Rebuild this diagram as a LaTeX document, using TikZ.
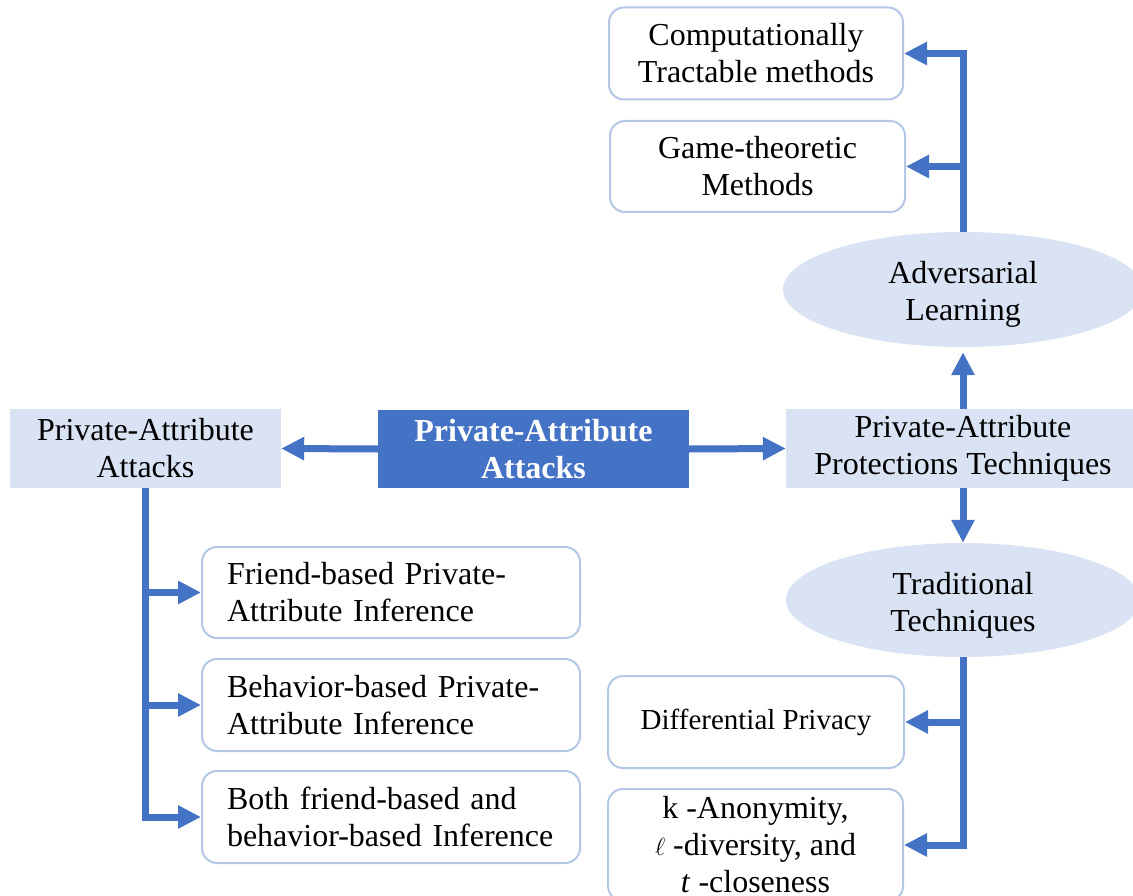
\documentclass[tikz,border=0pt]{standalone}
\usepackage{fontspec}
\setmainfont{Liberation Serif}
\usetikzlibrary{arrows.meta,shapes.geometric}
\definecolor{arrblue}{HTML}{4472C4}
\definecolor{lightfill}{HTML}{DAE3F3}
\definecolor{boxline}{HTML}{B4C7E7}
\begin{document}
\begin{tikzpicture}[x=1pt,y=-1pt,
 every node/.style={font=\fontsize{32}{37}\selectfont, inner sep=0pt},
 every label/.style={font=\fontsize{32}{37}\selectfont, inner sep=0pt, align=center},
 rbox/.style={draw=boxline, line width=2pt, rounded corners=15pt, fill=white, align=center},
 lbox/.style={rbox, align=left, text width=328pt, inner xsep=25pt, minimum width=378pt, minimum height=91pt},
 flat/.style={fill=lightfill, align=center},
 oval/.style={ellipse, fill=lightfill, align=center},
 arr/.style={draw=arrblue, line width=7pt, -{Triangle[length=23pt,width=22pt]}},
]
\useasboundingbox (0,0) rectangle (1133,896);
\clip (0,0) rectangle (1133,896);
\node[rbox, minimum width=294pt, minimum height=92pt] (ct) at (756,53.5) {Computationally\\Tractable methods};
\node[rbox, minimum width=295pt, minimum height=91pt] (gt) at (757.5,166.5) {Game-theoretic\\Methods};
\node[oval, minimum width=360pt, minimum height=115pt, label={[yshift=-5pt]center:Adversarial\\Learning}] (adv) at (963,289.5) {};
\node[flat, minimum width=354pt, minimum height=79pt] (pap) at (963,448.5) {Private-Attribute\\Protections Techniques};
\node[oval, minimum width=354pt, minimum height=114pt, label={[yshift=-5pt]center:Traditional\\Techniques}] (trad) at (963,600) {};
\node[rbox, minimum width=296pt, minimum height=92pt, font=\fontsize{29}{35}\selectfont] (dp) at (756,722) {Differential Privacy};
\node[rbox, minimum width=295pt, minimum height=112pt] (kb) at (755.5,845) {k -Anonymity,\\$\ell$ -diversity, and\\\textit{t} -closeness};
\node[fill=arrblue, text=white, font=\fontsize{32}{37}\selectfont\bfseries, minimum width=311pt, minimum height=78pt, align=center] (cb) at (533.5,449) {Private-Attribute\\Attacks};
\node[flat, minimum width=271pt, minimum height=79pt] (lb) at (145.5,448.5) {Private-Attribute\\Attacks};
\node[lbox] (fr) at (391,592.5) {Friend-based Private-\\Attribute Inference};
\node[lbox, minimum height=92pt] (bh) at (391,705) {Behavior-based Private-\\Attribute Inference};
\node[lbox, minimum height=92pt] (bo) at (391,817) {Both friend-based and\\behavior-based Inference};
\draw[arr] (cb.west) -- (lb.east);
\draw[arr] (cb.east) -- (pap.west);
\draw[arr, shorten >=5pt] (pap.north) -- (adv.south);
\draw[arr] (pap.south) -- (trad.north);
\draw[arr] (adv.north) |- (ct.east);
\draw[arr] (adv.north) |- (gt.east);
\draw[arr] (trad.south) |- (dp.east);
\draw[arr] (trad.south) |- (kb.east);
\draw[arr] (lb.south) |- (fr.west);
\draw[arr] (lb.south) |- (bh.west);
\draw[arr] (lb.south) |- (bo.west);
\end{tikzpicture}
\end{document}
